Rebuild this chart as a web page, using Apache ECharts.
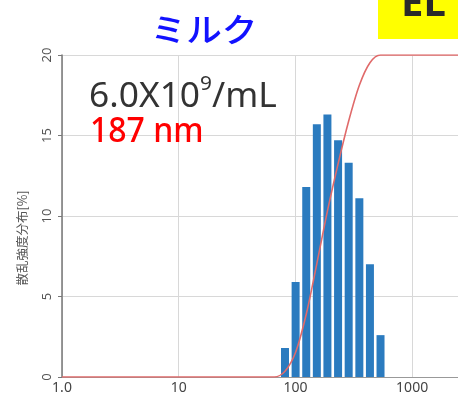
<!DOCTYPE html>
<html><head><meta charset="utf-8">
<script src="https://cdn.jsdelivr.net/npm/echarts@6/dist/echarts.min.js"></script>
<style>html,body{margin:0;padding:0;background:#fff}#c{width:458px;height:400px}</style>
</head><body><div id="c"></div>
<script>
// Particle size bins (nm) and scattering intensity distribution (%)
var sizes = [81.4, 100.4, 123.8, 152.6, 188, 232, 286, 353, 435, 536];
var intensity = [1.8, 5.9, 11.8, 15.7, 16.3, 14.7, 13.3, 11.1, 7.0, 2.6];
// Cumulative curve (%)
var cumSizes = [1, 66, 81.4, 100.4, 123.8, 152.6, 188, 232, 286, 353, 435, 536, 2472];
var cumValues = [0, 0, 1.8, 7.7, 19.5, 35.2, 51.5, 66.2, 79.5, 90.6, 97.6, 100, 100];
var yTicks = [0, 5, 10, 15, 20];
var xMin = 1, xMax = 2472;
var titleText = 'ミルク';
var concText = '6.0X10';
var concExp = '9';
var concUnit = '/mL';
var meanText = '187 nm';
var yName = '散乱強度分布[%]';
var boxText = 'EL';

var chart = echarts.init(document.getElementById('c'), null, {renderer: 'canvas'});
var barData = sizes.map(function (s, i) { return [s, intensity[i]]; });
var lineData = cumSizes.map(function (s, i) { return [s, cumValues[i]]; });

chart.setOption({
  animation: false,
  grid: {left: 62, right: 0, top: 55, bottom: 23},
  xAxis: {
    type: 'log', logBase: 10, min: xMin, max: xMax,
    axisLine: {show: true, lineStyle: {color: '#999', width: 1}},
    axisTick: {show: false},
    axisLabel: {color: '#444', fontSize: 14, fontFamily: 'Noto Sans', margin: 4,
      showMaxLabel: false,
      formatter: function (v) { return v === 1 ? '1.0' : String(v); }},
    splitLine: {show: true, lineStyle: {color: '#d8d8d8', width: 1}},
    minorSplitLine: {show: false}
  },
  yAxis: [{
    type: 'value', min: yTicks[0], max: yTicks[yTicks.length - 1], interval: 5,
    axisLine: {show: true, lineStyle: {color: '#777', width: 1.5}},
    axisTick: {show: true, length: 4, lineStyle: {color: '#777'}},
    axisLabel: {color: '#555', fontSize: 13, fontFamily: 'Noto Sans', rotate: 90, margin: 8},
    splitLine: {show: true, lineStyle: {color: '#d8d8d8', width: 1}}
  }, {
    type: 'value', min: 0, max: 100, show: false
  }],
  series: [{
    type: 'bar', data: barData, barWidth: 8, yAxisIndex: 0,
    itemStyle: {color: '#2b7bbf'}, z: 2
  }, {
    type: 'line', data: lineData, yAxisIndex: 1, smooth: 0.3, symbol: 'none',
    lineStyle: {color: '#e06a6a', width: 1.6}, z: 3
  }],
  graphic: [
    {type: 'rect', shape: {x: 378, y: 0, width: 80, height: 39}, style: {fill: '#ffff00'}, z: 10},
    {type: 'text', x: 401, y: 25, z: 11, style: {text: boxText, font: 'bold 40px "Noto Sans"', fill: '#2a2a2a', textVerticalAlign: 'bottom'}},
    {type: 'text', x: 204, y: 29, z: 11, scaleX: 1.08, style: {text: titleText, font: '500 33px "Noto Sans CJK JP"', fill: '#1212ff', textAlign: 'center', textVerticalAlign: 'middle'}},
    {type: 'text', x: 22, y: 238, rotation: Math.PI / 2, z: 11, style: {text: yName, font: '12.5px "Noto Sans CJK JP"', fill: '#555', textAlign: 'center', textVerticalAlign: 'middle'}},
    {type: 'text', x: 89, y: 94, z: 11, scaleX: 1.04, style: {
      text: '{a|' + concText + '}{s|' + concExp + '}{a|' + concUnit + '}',
      textVerticalAlign: 'middle',
      rich: {
        a: {font: '34px "Noto Sans"', fill: '#333', color: '#333', verticalAlign: 'bottom', lineHeight: 40},
        s: {font: '20px "Noto Sans"', fill: '#333', color: '#333', verticalAlign: 'top', lineHeight: 40}
      }}},
    {type: 'text', x: 90, y: 132, z: 11, scaleX: 0.94, style: {text: meanText, font: '500 34px "Noto Sans"', fill: '#ff0000', textVerticalAlign: 'middle'}}
  ]
});
</script></body></html>
